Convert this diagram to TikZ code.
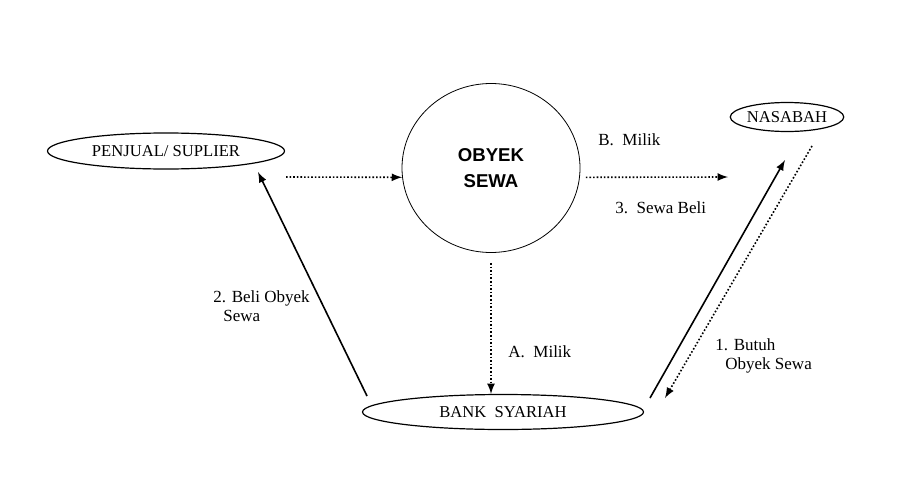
\documentclass[tikz,border=0pt]{standalone}
\usepackage{fontspec}
\setmainfont{Liberation Serif}
\newfontfamily\boldsans{Liberation Sans}
\usetikzlibrary{shapes.geometric}

\tikzset{
	party/.style={ellipse,draw,semithick,inner sep=0pt,font=\fontsize{8.3}{9}\selectfont},
	txt/.style={anchor=west,align=left,inner sep=0pt,font=\fontsize{8.5}{9.5}\selectfont},
	flow/.style={-latex,thick},
	dots/.style={-latex,densely dotted,thick}
}

\begin{document}
\begin{tikzpicture}[x=.5pt,y=-.5pt]
\useasboundingbox (0,0) rectangle (910,482);
\fill[white] (0,0) rectangle (910,482);

\node[party,minimum width=118.5pt,minimum height=18pt] (penjual) at (166,151) {PENJUAL/ SUPLIER};
\node[ellipse,draw,minimum width=89pt,minimum height=84.5pt,align=center,
	font=\boldsans\bfseries\fontsize{9.3}{13}\selectfont] (obyek) at (491,168) {OBYEK\\SEWA};
\node[party,minimum width=55pt,minimum height=14.5pt] (nasabah) at (787,117) {NASABAH};
\node[party,minimum width=140.5pt,minimum height=17.5pt] (bank) at (503,412) {BANK\ \ SYARIAH};

% free ends
\coordinate (penjualB) at (286,177);
\coordinate (nasabahL) at (728,177);
\coordinate (penjualR) at (258,172);
\coordinate (bankL) at (367,396);
\coordinate (bankR) at (650,398);
\coordinate (bankR2) at (665,398);
\coordinate (nasabahB) at (785,160);
\coordinate (nasabahB2) at (812,146);

\draw[dots] (penjualB) -- (obyek.186);
\draw[dots,shorten <=3pt] (obyek.-6) -- (nasabahL);
\draw[dots,shorten <=5pt] (obyek.south) -- (obyek.south |- bank.north);
\draw[flow] (bankL) -- (penjualR);
\draw[flow] (bankR) -- (nasabahB);
\draw[dots] (nasabahB2) -- (bankR2);

\node[txt] (bMilik) at (598,140) {B.\ \ Milik};
\node[txt] (sewaBeli) at (615,208) {3.\ \ Sewa Beli};
\node[txt] (aMilik) at (508,352) {A.\ \ Milik};
\node[txt] (beli) at (213,306) {2. Beli Obyek\\\hspace*{5pt}Sewa};
\node[txt] (butuh) at (715,356) {1. Butuh\\\hspace*{5pt}Obyek Sewa};
\end{tikzpicture}
\end{document}
